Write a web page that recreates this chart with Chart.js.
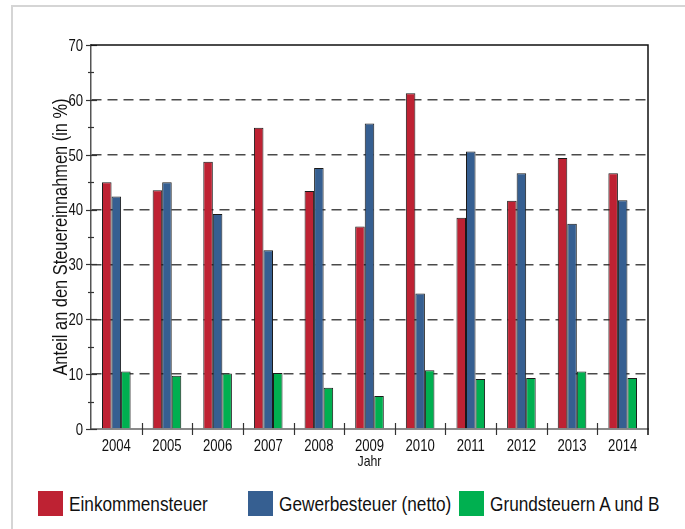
<!DOCTYPE html>
<html lang="de">
<head>
<meta charset="utf-8">
<title>Anteil an den Steuereinnahmen 2004–2014</title>
<script src="https://cdn.jsdelivr.net/npm/chart.js@4.4.1/dist/chart.umd.min.js"></script>
<style>
    html, body { margin: 0; padding: 0; background: #fff; overflow: hidden; }
    #wrap { position: relative; width: 685px; height: 529px; overflow: hidden; }
    #frame {
        position: absolute; left: 11px; top: 5px; width: 700px; height: 600px;
        border-top: 2px solid #d5d5d5; border-left: 2px solid #d5d5d5;
    }
    #chart { position: absolute; left: 0; top: 0; }
    .lg-item { position: absolute; top: 491px; height: 25px; }
    .lg-box { position: absolute; left: 0; top: 0; width: 25px; height: 25px; }
    .lg-text {
        position: absolute; left: 31px; top: 0; line-height: 25px;
        font-family: 'Liberation Sans', Arial, sans-serif; font-size: 21px; color: #111;
        white-space: nowrap; transform: scaleX(0.82); transform-origin: 0 50%;
    }
</style>
</head>
<body>
<div id="wrap">
    <div id="frame"></div>
    <canvas id="chart" width="685" height="470"></canvas>
    <div id="legend"></div>
</div>
<script>
// Anteil der Steuerarten an den Steuereinnahmen (in %)
const years = ['2004', '2005', '2006', '2007', '2008', '2009', '2010', '2011', '2012', '2013', '2014'];
const einkommensteuer = [45.0, 43.5, 48.7, 54.9, 43.4, 36.9, 61.2, 38.5, 41.6, 49.4, 46.6];
const gewerbesteuer = [42.4, 45.0, 39.2, 32.6, 47.6, 55.7, 24.7, 50.6, 46.6, 37.4, 41.7];
const grundsteuern = [10.5, 9.7, 10.1, 10.2, 7.5, 6.0, 10.7, 9.1, 9.3, 10.5, 9.3];

const seriesLabels = ['Einkommensteuer', 'Gewerbesteuer (netto)', 'Grundsteuern A und B'];
const seriesColors = ['#be2233', '#365f91', '#00b050'];
const yTicks = [0, 10, 20, 30, 40, 50, 60, 70];
const xTitle = 'Jahr';
const yTitle = 'Anteil an den Steuereinnahmen (in %)';

const FONT = "'Liberation Sans', Arial, sans-serif";
const NARROW = 0.82;   // no narrow face installed, squeeze the regular one
const legendLeft = [38, 248, 459];

function narrowText(ctx, text, x, y, size, align, rotated) {
    ctx.save();
    ctx.translate(x, y);
    if (rotated) ctx.rotate(-Math.PI / 2);
    ctx.scale(NARROW, 1);
    ctx.font = size + 'px ' + FONT;
    ctx.fillStyle = '#111';
    ctx.textAlign = align;
    ctx.textBaseline = 'alphabetic';
    ctx.fillText(text, 0, 0);
    ctx.restore();
}

// axis labels, tick marks crossing the axes, top/right frame of the plot
const axisDecor = {
    id: 'axisDecor',
    afterDraw(chart) {
        const { ctx, chartArea: a, scales: { x, y } } = chart;
        ctx.save();
        ctx.strokeStyle = '#333';
        ctx.lineWidth = 1.2;
        for (let v = yTicks[0]; v <= yTicks[yTicks.length - 1]; v += 5) {
            const py = Math.round(y.getPixelForValue(v)) + 0.5;
            const major = v % 10 === 0;
            ctx.beginPath();
            ctx.moveTo(a.left - (major ? 5 : 3), py);
            ctx.lineTo(a.left + (major ? 6 : 3), py);
            ctx.stroke();
        }
        for (let i = 0; i < years.length - 1; i++) {
            const px = Math.round((x.getPixelForValue(i) + x.getPixelForValue(i + 1)) / 2) + 0.5;
            ctx.beginPath();
            ctx.moveTo(px, a.bottom - 6);
            ctx.lineTo(px, a.bottom + 6);
            ctx.stroke();
        }
        ctx.strokeStyle = '#111';
        ctx.lineWidth = 1.5;
        ctx.beginPath();
        ctx.moveTo(a.left, a.top);
        ctx.lineTo(a.right, a.top);
        ctx.lineTo(a.right, a.bottom + 6);
        ctx.stroke();
        ctx.restore();

        yTicks.forEach(v => narrowText(ctx, String(v), a.left - 8, y.getPixelForValue(v) + 5.8, 16, 'right'));
        years.forEach((yr, i) => narrowText(ctx, yr, x.getPixelForValue(i), a.bottom + 22, 16, 'center'));
        narrowText(ctx, xTitle, (a.left + a.right) / 2, a.bottom + 37, 15, 'center');
        narrowText(ctx, yTitle, 66.5, (a.top + a.bottom) / 2, 20, 'center', true);
    }
};

const datasets = [einkommensteuer, gewerbesteuer, grundsteuern].map((values, i) => ({
    label: seriesLabels[i],
    data: values,
    backgroundColor: seriesColors[i],
    borderColor: '#1a1a1a',
    borderWidth: 1,
    borderSkipped: 'bottom',
    categoryPercentage: 0.565,
    barPercentage: 1.0
}));

new Chart(document.getElementById('chart'), {
    type: 'bar',
    data: { labels: years, datasets: datasets },
    options: {
        responsive: false,
        animation: false,
        devicePixelRatio: 1,
        layout: { padding: { left: 0, right: 37, top: 45, bottom: 0 } },
        plugins: {
            legend: { display: false },
            tooltip: { enabled: false }
        },
        scales: {
            x: {
                offset: true,
                grid: { display: false },
                border: { display: true, color: '#8a8a8a', width: 2 },
                ticks: { display: false },
                afterFit(scale) { scale.height = 41; }
            },
            y: {
                min: 0,
                max: 70,
                afterBuildTicks(scale) { scale.ticks = yTicks.map(v => ({ value: v })); },
                grid: {
                    drawTicks: false,
                    lineWidth: 1.5,
                    color: c => (c.tick && c.tick.value > 0 && c.tick.value < 70) ? '#4a4a4a' : 'rgba(0,0,0,0)'
                },
                border: { display: true, color: '#555', width: 1.5, dash: [10, 6] },
                ticks: { display: false },
                afterFit(scale) { scale.width = 91; }
            }
        }
    },
    plugins: [axisDecor]
});

// legend below the plot
const legendEl = document.getElementById('legend');
seriesLabels.forEach((label, i) => {
    const item = document.createElement('div');
    item.className = 'lg-item';
    item.style.left = legendLeft[i] + 'px';
    item.innerHTML = `<span class="lg-box" style="background:${seriesColors[i]}"></span><span class="lg-text">${label}</span>`;
    legendEl.appendChild(item);
});
</script>
</body>
</html>
